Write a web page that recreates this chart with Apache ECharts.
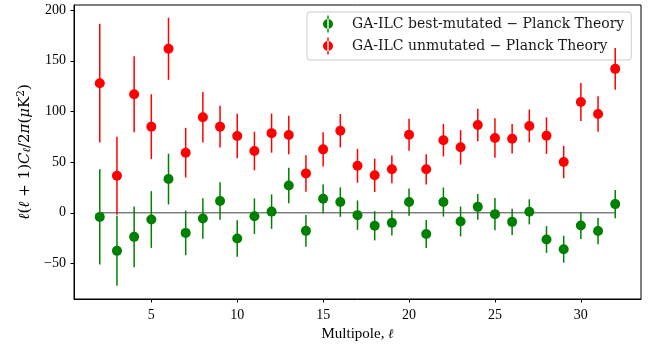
<!DOCTYPE html>
<html>
<head>
<meta charset="utf-8">
<script src="https://cdn.jsdelivr.net/npm/echarts@6/dist/echarts.min.js"></script>
<style>
  html, body { margin: 0; padding: 0; background: #fff; }
  #chart { width: 656px; height: 348px; }
</style>
</head>
<body>
<div id="chart"></div>
<script>
// Multipoles ℓ = 2 … 32
const multipoles = [2,3,4,5,6,7,8,9,10,11,12,13,14,15,16,17,18,19,20,21,22,23,24,25,26,27,28,29,30,31,32];

// GA-ILC best-mutated − Planck Theory: residuals and 1σ errors
const bestMutated = [-4,-37.5,-23.7,-6.6,33.3,-19.8,-5.6,11.6,-25.3,-3.3,1.2,27,-17.8,13.8,10.6,-2.3,-12.8,-9.9,10.6,-20.8,10.6,-8.5,5.9,-1.3,-8.9,1,-26.3,-35.9,-12.5,-18,8.6];
const bestMutatedErr = [47,34.5,30,28,25,22,20,18.5,18,17.5,17,17.5,15.6,14.2,14.5,14.5,14.4,12.5,13.4,13.8,14.3,14.7,12.7,16,13,12.4,13.2,13.3,13.2,13,14];

// GA-ILC unmutated − Planck Theory: residuals and 1σ errors
const unmutated = [127.9,36.6,117,85,161.8,59.3,94.3,85,75.8,61,78.6,76.8,38.9,62.6,81,46.4,37,42.9,77,42.9,71.6,64.6,86.7,73.8,73.1,85.7,76.1,50.1,109.4,97.5,142];
const unmutatedErr = [58.6,38.4,37.5,32,30.6,24.5,25,20.6,22,19,19.3,19,18,17,16.5,16.7,16.5,13.7,15.8,15,16,17,16,19.5,14.6,16.2,18,16,18.7,17.5,20.5];

// Axis ticks
const xTicks = [5,10,15,20,25,30];
const yTicks = [-50,0,50,100,150,200];

const GREEN = '#008000';
const RED = '#ff0000';
const SERIF = '"Liberation Serif", "DejaVu Serif", serif';
const WIDE_SERIF = '"DejaVu Serif", serif';
const NAME_BEST = 'GA-ILC best-mutated \u2212 Planck Theory';
const NAME_UNMUT = 'GA-ILC unmutated \u2212 Planck Theory';

// Legend handle: marker with a short vertical error bar through it
const ERR_ICON = 'path://M4.3,0 L5.7,0 L5.7,17 L4.3,17 Z M0,8.5 A5,5 0 1,0 10,8.5 A5,5 0 1,0 0,8.5 Z';

function pairs(vals) {
  return multipoles.map((l, i) => [l, vals[i]]);
}
function errRows(vals, errs) {
  return multipoles.map((l, i) => [l, vals[i] - errs[i], vals[i] + errs[i]]);
}
function errorBarSeries(name, vals, errs, color, z) {
  return {
    type: 'custom',
    name: name,
    z: z,
    silent: true,
    data: errRows(vals, errs),
    encode: { x: 0, y: [1, 2] },
    renderItem: function (params, api) {
      const lo = api.coord([api.value(0), api.value(1)]);
      const hi = api.coord([api.value(0), api.value(2)]);
      return {
        type: 'line',
        shape: { x1: lo[0], y1: lo[1], x2: hi[0], y2: hi[1] },
        style: { stroke: color, lineWidth: 1.5 }
      };
    }
  };
}
const fmtMinus = v => String(v).replace('-', '\u2212');

const chart = echarts.init(document.getElementById('chart'), null, { renderer: 'canvas' });
chart.setOption({
  animation: false,
  backgroundColor: '#ffffff',
  grid: {
    left: 74, right: 15, top: 5, bottom: 49,
    show: true, borderColor: '#000', borderWidth: 1, backgroundColor: 'transparent'
  },
  legend: {
    left: 307, top: 12,
    orient: 'vertical',
    data: [NAME_BEST, NAME_UNMUT],
    icon: ERR_ICON,
    itemWidth: 10, itemHeight: 17,
    itemGap: 5,
    padding: [3.5, 7, 5.5, 16],
    backgroundColor: 'rgba(255,255,255,0.8)',
    borderColor: '#cccccc', borderWidth: 1, borderRadius: 3,
    textStyle: { fontFamily: WIDE_SERIF, fontSize: 14, color: '#1a1a1a', padding: [0, 0, 0, 14] }
  },
  xAxis: {
    type: 'value', min: 0.5, max: 33.5,
    name: 'Multipole, {i|ℓ}',
    nameLocation: 'middle', nameGap: 27,
    nameTextStyle: {
      fontFamily: SERIF, fontSize: 15, color: '#000',
      rich: { i: { fontFamily: WIDE_SERIF, fontStyle: 'italic', fontSize: 13, color: '#000' } }
    },
    axisLine: { show: true, onZero: false, lineStyle: { color: '#000', width: 1 } },
    axisTick: { show: true, length: 3.5, lineStyle: { color: '#000' }, customValues: xTicks },
    axisLabel: { fontFamily: SERIF, fontSize: 14, color: '#000', margin: 9, customValues: xTicks },
    splitLine: { show: false }
  },
  yAxis: {
    type: 'value', min: -85, max: 205,
    name: '{i|ℓ}({i|ℓ} + 1){i|C}{s|ℓ}/2{i|π}({i|μ}K{p|2})',
    nameLocation: 'middle', nameRotate: 90, nameGap: 40,
    nameTextStyle: {
      fontFamily: WIDE_SERIF, fontSize: 15, color: '#000',
      rich: {
        i: { fontFamily: WIDE_SERIF, fontStyle: 'italic', fontSize: 15, color: '#000' },
        s: { fontFamily: WIDE_SERIF, fontStyle: 'italic', fontSize: 10.5, color: '#000', verticalAlign: 'bottom', padding: [6, 0, 0, 0] },
        p: { fontFamily: WIDE_SERIF, fontSize: 10.5, color: '#000', verticalAlign: 'top', padding: [0, 0, 6, 0] }
      }
    },
    axisLine: { show: true, onZero: false, lineStyle: { color: '#000', width: 1 } },
    axisTick: { show: true, length: 3.5, lineStyle: { color: '#000' }, customValues: yTicks },
    axisLabel: { fontFamily: SERIF, fontSize: 14, color: '#000', margin: 8, customValues: yTicks, formatter: fmtMinus },
    splitLine: { show: false }
  },
  series: [
    {
      type: 'line', name: 'zero', silent: true, z: 1,
      data: [[multipoles[0], 0], [multipoles[multipoles.length - 1], 0]],
      symbol: 'none', lineStyle: { color: '#000', width: 1, opacity: 0.75 }
    },
    errorBarSeries('best-err', bestMutated, bestMutatedErr, GREEN, 2),
    {
      type: 'scatter', name: NAME_BEST, z: 3,
      data: pairs(bestMutated), symbol: 'circle', symbolSize: 10,
      itemStyle: { color: GREEN, opacity: 1 }
    },
    errorBarSeries('unmut-err', unmutated, unmutatedErr, RED, 4),
    {
      type: 'scatter', name: NAME_UNMUT, z: 5,
      data: pairs(unmutated), symbol: 'circle', symbolSize: 10,
      itemStyle: { color: RED, opacity: 1 }
    }
  ]
});
</script>
</body>
</html>
